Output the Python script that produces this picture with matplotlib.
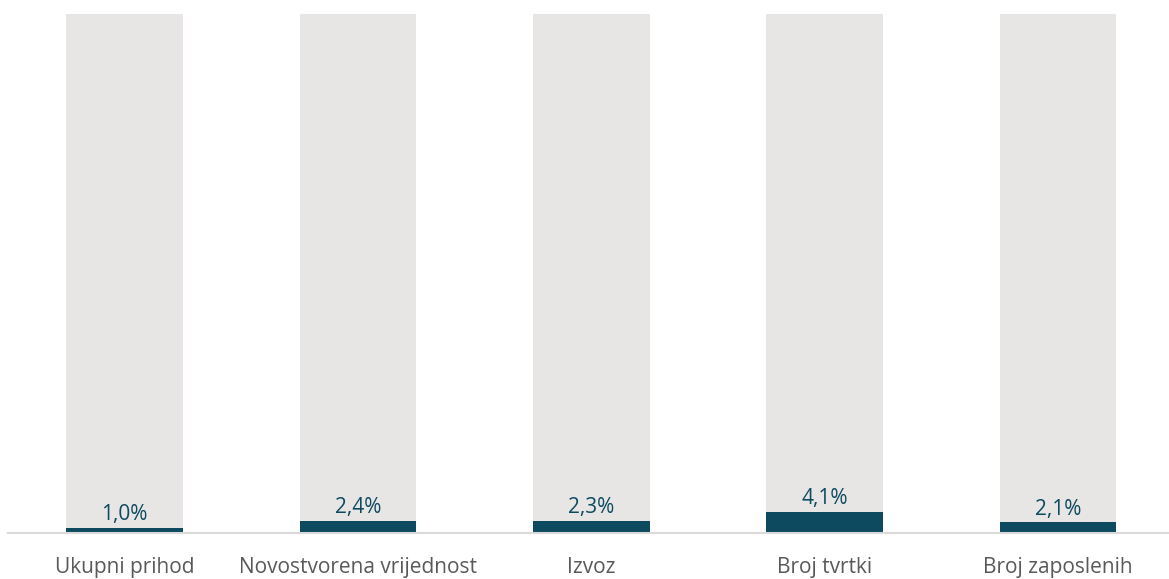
import numpy as np
import matplotlib.pyplot as plt

plt.rcParams['font.family'] = ['Open Sans', 'DejaVu Sans']

categories = ['Ukupni prihod', 'Novostvorena vrijednost', 'Izvoz', 'Broj tvrtki', 'Broj zaposlenih']
shares = [1.0, 2.4, 2.3, 4.1, 2.1]
labels = ['1,0%', '2,4%', '2,3%', '4,1%', '2,1%']

dark = '#0d4a60'
grey = '#e7e6e5'

fig = plt.figure(figsize=(11.69, 5.79), dpi=100)
ax = fig.add_axes([8 / 1169, 46 / 579, 1161 / 1169, 519 / 579])

x = np.arange(len(categories))
rest = [100 - s for s in shares]

# dark share at the bottom, grey remainder stacked on top
ax.bar(x, shares, width=0.5, color=dark, zorder=2)
ax.bar(x, rest, width=0.5, bottom=shares, color=grey, zorder=2)

for xi, s, lab in zip(x, shares, labels):
    ax.text(xi, s + 0.5, lab, ha='center', va='bottom', fontsize=15, color=dark, zorder=3)

ax.set_xlim(-0.5, -0.5 + 1161 / 233.3)
ax.set_ylim(0, 100)
ax.set_xticks(x)
ax.set_xticklabels(categories, fontsize=15, color='#595959')
ax.tick_params(axis='x', length=0, pad=17)
ax.set_yticks([])

for side in ['top', 'right', 'left']:
    ax.spines[side].set_visible(False)
ax.spines['bottom'].set_color('#d9d9d9')
ax.spines['bottom'].set_linewidth(1.5)
ax.spines['bottom'].set_zorder(3)

fig.savefig('out.png', dpi=100)
